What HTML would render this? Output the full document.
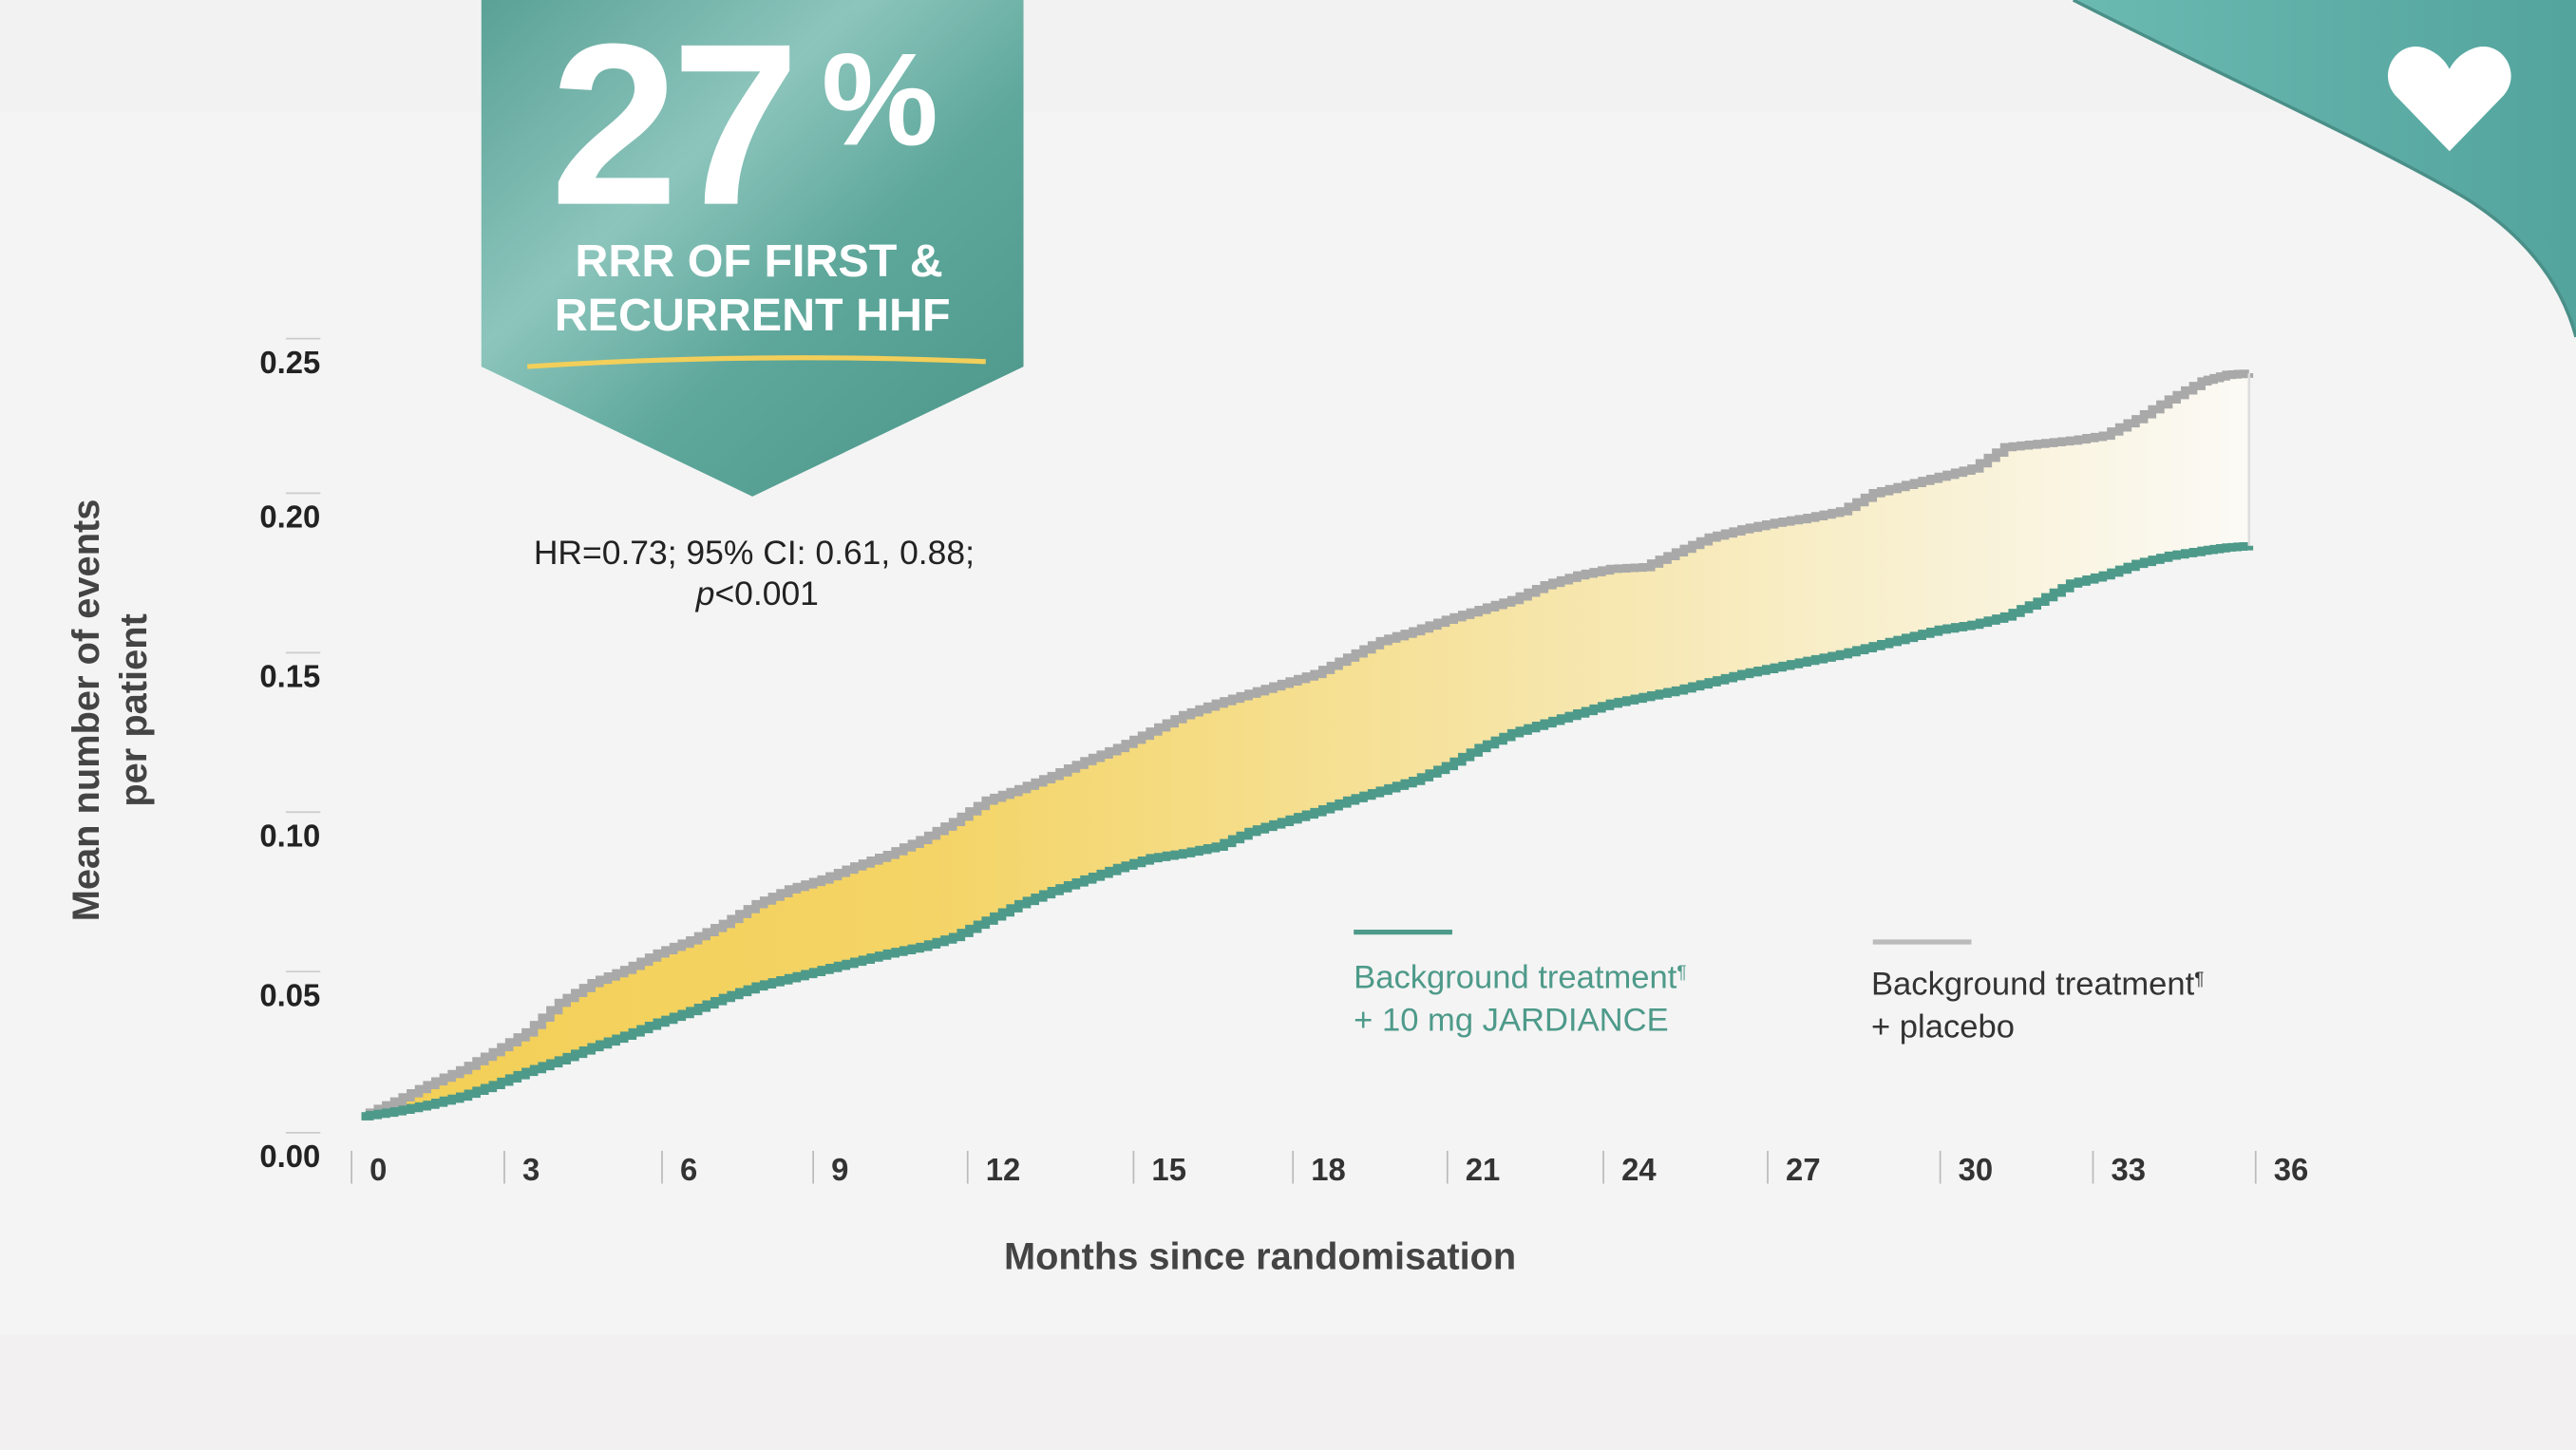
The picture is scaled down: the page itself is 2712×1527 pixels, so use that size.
<!DOCTYPE html>
<html><head><meta charset="utf-8"><style>
html,body{margin:0;padding:0;background:#f4f4f4;}
svg{display:block}
text{font-family:"Liberation Sans",Arial,sans-serif}
</style></head><body>
<svg id="s" width="2712" height="1527" viewBox="0 0 1568 882" preserveAspectRatio="none" xmlns="http://www.w3.org/2000/svg">
<defs>
<linearGradient id="badge" x1="0" y1="0" x2="1" y2="1">
<stop offset="0" stop-color="#5aa196"/><stop offset="0.35" stop-color="#8cc5bc"/><stop offset="0.6" stop-color="#5ea79b"/><stop offset="1" stop-color="#4a9588"/>
</linearGradient>
<linearGradient id="corner" x1="0" y1="0" x2="1" y2="0">
<stop offset="0" stop-color="#6bbab2"/><stop offset="1" stop-color="#53a49d"/>
</linearGradient>
<linearGradient id="fill" x1="220" y1="0" x2="1370" y2="0" gradientUnits="userSpaceOnUse">
<stop offset="0" stop-color="#f3cf55"/><stop offset="0.3" stop-color="#f4d466"/><stop offset="0.6" stop-color="#f6e4a4"/><stop offset="1" stop-color="#fbfaf6"/>
</linearGradient>
</defs>
<rect width="1568" height="882" fill="#f4f4f4"/>
<rect y="0" width="1568" height="68" fill="#f3f2f2"/>
<rect y="812" width="1568" height="70" fill="#f2f0f0"/>
<path d="M1262,0 C1350,45 1450,90 1500,120 C1540,145 1560,175 1568,205 L1568,0 Z" fill="url(#corner)"/>
<path d="M1262,0 C1350,45 1450,90 1500,120 C1540,145 1560,175 1568,205" fill="none" stroke="#4a8f88" stroke-width="2"/>
<path d="M1491,92 L1458,58 C1446,44 1460,22 1478,30 C1485,33 1489,38 1491,42 C1493,38 1497,33 1504,30 C1522,22 1536,44 1524,58 Z" fill="#fff"/>
<path d="M293,0 L623,0 L623,223 L458,302 L293,223 Z" fill="url(#badge)"/>
<text x="335" y="124" font-size="140" font-weight="bold" fill="#fff" letter-spacing="-4">27</text>
<text x="500" y="88" font-size="80" font-weight="bold" fill="#fff">%</text>
<text x="462" y="168" font-size="28" font-weight="bold" fill="#fff" text-anchor="middle">RRR OF FIRST &amp;</text>
<text x="458" y="201" font-size="28" font-weight="bold" fill="#fff" text-anchor="middle">RECURRENT HHF</text>
<path d="M321,223 Q460,214 600,220" stroke="#f2cf5a" stroke-width="3" fill="none"/>
<text x="459" y="343" font-size="20.5" fill="#222" text-anchor="middle">HR=0.73; 95% CI: 0.61, 0.88;</text>
<text x="461" y="368" font-size="20.5" fill="#222" text-anchor="middle"><tspan font-style="italic">p</tspan>&lt;0.001</text>
<g font-size="19" font-weight="bold" fill="#222" text-anchor="end">
<text x="195" y="227">0.25</text><text x="195" y="321">0.20</text><text x="195" y="418">0.15</text>
<text x="195" y="515">0.10</text><text x="195" y="612">0.05</text><text x="195" y="710">0.00</text>
</g>
<g stroke="#ccc" stroke-width="1">
<line x1="174" y1="206" x2="195" y2="206"/><line x1="174" y1="300" x2="195" y2="300"/><line x1="174" y1="397" x2="195" y2="397"/><line x1="174" y1="494" x2="195" y2="494"/><line x1="174" y1="591" x2="195" y2="591"/><line x1="174" y1="689" x2="195" y2="689"/>
</g>
<text transform="translate(60,432) rotate(-90)" font-size="23" font-weight="bold" fill="#444" text-anchor="middle">Mean number of events</text>
<text transform="translate(89,432) rotate(-90)" font-size="23" font-weight="bold" fill="#444" text-anchor="middle">per patient</text>
<g id="xt" font-size="19" font-weight="bold" fill="#333"></g>
<text x="767" y="772" font-size="23" font-weight="bold" fill="#444" text-anchor="middle">Months since randomisation</text>
<polygon id="area" fill="url(#fill)"/>
<polyline id="gray" fill="none" stroke="#a9a9a9" stroke-width="5"/>
<polyline id="green" fill="none" stroke="#4e9a8a" stroke-width="5"/>
<line x1="1369" y1="227" x2="1369" y2="332" stroke="#ddd" stroke-width="1.5"/>
<line x1="824" y1="567" x2="884" y2="567" stroke="#4e9a8a" stroke-width="3"/>
<text x="824" y="601" font-size="20" fill="#4e9a8a">Background treatment<tspan font-size="11" dy="-6">¶</tspan></text>
<text x="824" y="627" font-size="20" fill="#4e9a8a">+ 10 mg JARDIANCE</text>
<line x1="1140" y1="573" x2="1200" y2="573" stroke="#bbb" stroke-width="3"/>
<text x="1139" y="605" font-size="20" fill="#333">Background treatment<tspan font-size="11" dy="-6">¶</tspan></text>
<text x="1139" y="631" font-size="20" fill="#333">+ placebo</text>
</svg>
<script>
var ns="http://www.w3.org/2000/svg";
var ticks=[[214,0],[307,3],[403,6],[495,9],[589,12],[690,15],[787,18],[881,21],[976,24],[1076,27],[1181,30],[1274,33],[1373,36]];
var g=document.getElementById("xt");
ticks.forEach(function(t){
 var l=document.createElementNS(ns,"line");l.setAttribute("x1",t[0]);l.setAttribute("x2",t[0]);l.setAttribute("y1",700);l.setAttribute("y2",720);l.setAttribute("stroke","#bbb");g.appendChild(l);
 var tx=document.createElementNS(ns,"text");tx.setAttribute("x",t[0]+11);tx.setAttribute("y",718);tx.textContent=t[1];g.appendChild(tx);
});
var gray=[[220,679],[240,670],[260,660],[280,651],[300,640],[320,628],[340,610],[360,598],[380,590],[400,580],[420,572],[440,562],[460,550],[480,541],[500,535],[520,527],[540,520],[560,511],[580,500],[600,487],[620,480],[640,472],[660,463],[680,455],[700,445],[720,435],[740,428],[760,422],[780,416],[800,410],[820,400],[840,390],[860,384],[880,377],[900,371],[920,365],[940,356],[960,350],[980,346],[1000,345],[1020,336],[1040,327],[1060,322],[1080,318],[1100,315],[1120,311],[1140,300],[1160,295],[1180,290],[1200,285],[1220,272],[1240,270],[1260,268],[1280,265],[1300,255],[1320,243],[1340,232],[1355,228],[1369,227]];
var green=[[220,679],[240,676],[260,672],[280,667],[300,660],[320,652],[340,645],[360,637],[380,630],[400,622],[420,615],[440,607],[460,600],[480,595],[500,590],[520,585],[540,580],[560,576],[580,570],[600,560],[620,550],[640,542],[660,535],[680,528],[700,522],[720,519],[740,515],[760,506],[780,500],[800,494],[820,487],[840,481],[860,475],[880,466],[900,455],[920,446],[940,440],[960,434],[980,428],[1000,424],[1020,420],[1040,415],[1060,410],[1080,406],[1100,402],[1120,398],[1140,393],[1160,388],[1180,383],[1200,380],[1220,375],[1240,366],[1260,355],[1280,350],[1300,343],[1320,338],[1340,335],[1355,333],[1369,332]];
function steps(a){var o=[];for(var i=0;i<a.length;i++){var x0=a[i][0],y0=a[i][1];if(i+1<a.length){var x1=a[i+1][0],y1=a[i+1][1];var n=4;for(var k=0;k<n;k++){var xa=x0+(x1-x0)*k/n,xb=x0+(x1-x0)*(k+1)/n,y=y0+(y1-y0)*k/n;o.push([xa,y]);o.push([xb,y]);}}else o.push([x0,y0]);}return o;}
var G=steps(gray),R=steps(green);
function str(a){return a.map(function(p){return p[0].toFixed(1)+","+p[1].toFixed(1)}).join(" ");}
document.getElementById("gray").setAttribute("points",str(G));
document.getElementById("green").setAttribute("points",str(R));
document.getElementById("area").setAttribute("points",str(G.concat(R.slice().reverse())));
</script>
</body></html>
